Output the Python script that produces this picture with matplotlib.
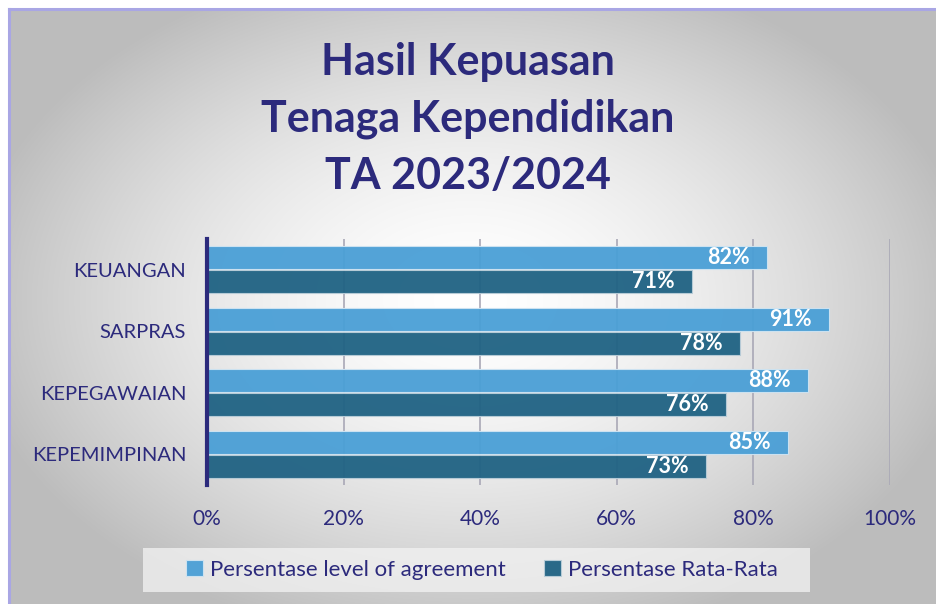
import matplotlib.pyplot as plt
import numpy as np
from matplotlib.patches import Rectangle

plt.rcParams['font.family'] = ['Lato', 'DejaVu Sans']

categories = ["KEUANGAN", "SARPRAS", "KEPEGAWAIAN", "KEPEMIMPINAN"]
agreement = [82, 91, 88, 85]
rata_rata = [71, 78, 76, 73]
series_names = ["Persentase level of agreement", "Persentase Rata-Rata"]
ticks = [0, 20, 40, 60, 80, 100]

navy = "#2c2a7c"
c_light = "#4a9fd6"
c_dark = "#1f6283"

W, H = 936, 604
fig = plt.figure(figsize=(W / 100, H / 100), dpi=100)

# radial gradient background (white centre fading to grey)
bg = fig.add_axes([0, 0, 1, 1], zorder=-10)
yy, xx = np.mgrid[0:H, 0:W]
cx, cy = 470, 300
r = np.hypot((xx - cx) / 480, (yy - cy) / 330)
val = 1 - 0.24 * np.clip(r, 0, 1.4) ** 1.6
val = np.clip(val, 0.74, 1)
img = np.dstack([val, val, val])
img[:8, :, :] = 1
img[:, :8, :] = 1
bg.imshow(img, extent=[0, W, H, 0], aspect='auto', interpolation='bilinear')
bg.plot([8.5, 8.5], [H, 8.5], color="#a9a6e4", lw=2.2)
bg.plot([8.5, W], [8.5, 8.5], color="#a9a6e4", lw=2.2)
# legend panel
bg.add_patch(Rectangle((143, 548), 667, 44, facecolor="#f3f3f3", alpha=0.75,
                       edgecolor='none'))
bg.set_xlim(0, W)
bg.set_ylim(H, 0)
bg.axis('off')

fig.text(0.5, 1 - 62 / H, "Hasil Kepuasan", ha='center', va='center',
         fontsize=31, fontweight='bold', color=navy)
fig.text(0.5, 1 - 119 / H, "Tenaga Kependidikan", ha='center', va='center',
         fontsize=31, fontweight='bold', color=navy)
fig.text(0.5, 1 - 176 / H, "TA 2023/2024", ha='center', va='center',
         fontsize=31, fontweight='bold', color=navy)

ax = fig.add_axes([207 / W, 1 - 485 / H, (890 - 207) / W, (485 - 239) / H])
ax.patch.set_alpha(0)
y = np.arange(len(categories))
h = 0.37
b1 = ax.barh(y - h / 2 - 0.01, agreement, height=h, color=c_light, alpha=0.95,
             edgecolor="#cfe4f2", linewidth=0.8, label=series_names[0], zorder=3)
b2 = ax.barh(y + h / 2 + 0.01, rata_rata, height=h, color=c_dark, alpha=0.95,
             edgecolor="#b9cdd8", linewidth=0.8, label=series_names[1], zorder=3)

for bars, vals in ((b1, agreement), (b2, rata_rata)):
    for bar, v in zip(bars, vals):
        ax.text(v - 2.5, bar.get_y() + bar.get_height() / 2, f"{v}%",
                ha='right', va='center', color='white', fontsize=15.5,
                fontweight='bold', zorder=4)

ax.set_xlim(0, 100)
ax.set_ylim(3.5, -0.5)
ax.set_xticks(ticks)
ax.set_xticklabels([f"{t}%" for t in ticks])
ax.set_yticks(y)
ax.set_yticklabels(categories)
ax.tick_params(axis='both', length=0, labelsize=15, labelcolor=navy)
ax.tick_params(axis='y', labelsize=14.5, pad=15)
ax.tick_params(axis='x', pad=17)
ax.grid(axis='x', color="#a9a8b6", linewidth=1.2, zorder=1)
for s in ('top', 'right', 'bottom'):
    ax.spines[s].set_visible(False)
ax.spines['left'].set_color(navy)
ax.spines['left'].set_linewidth(3)
ax.spines['left'].set_zorder(5)

leg = fig.legend(handles=[b1, b2], labels=series_names, loc='center',
                 bbox_to_anchor=(482 / W, 1 - 570 / H), ncol=2, frameon=False,
                 fontsize=16, labelcolor=navy, handlelength=0.75,
                 handleheight=0.75, handletextpad=0.3, columnspacing=1.76)

fig.savefig("out.png", dpi=100)
